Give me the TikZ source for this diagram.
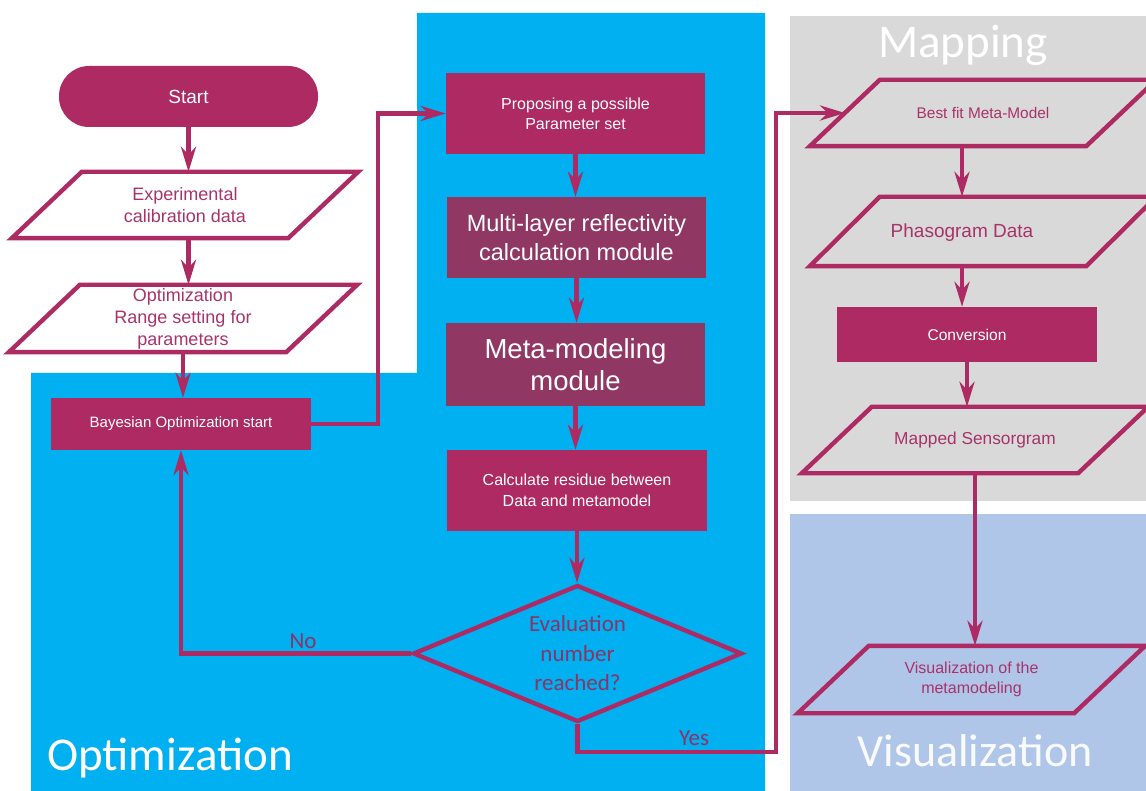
\documentclass[tikz,border=0pt]{standalone}
\usepackage{fontspec}
\setmainfont{Liberation Sans}
\newfontfamily\calfont{Carlito}
\usetikzlibrary{shapes.geometric,arrows.meta}
\definecolor{mag}{HTML}{AD2A62}
\definecolor{magdark}{HTML}{913764}
\definecolor{magtext}{HTML}{A8336A}
\definecolor{dectxt}{HTML}{8A3468}
\definecolor{optblue}{HTML}{00B0F0}
\definecolor{mapgray}{HTML}{D9D9D9}
\definecolor{visblue}{HTML}{AFC6E9}
\tikzset{
  fs/.style n args={2}{font=\fontsize{#1}{#2}\selectfont},
  procbox/.style={rectangle, fill=mag, text=white, align=center, inner sep=0pt},
  darkbox/.style={rectangle, fill=magdark, text=white, align=center, inner sep=0pt},
  paratext/.style={rectangle, draw=none, text=magtext, align=center, inner sep=0pt},
  parashape/.style={draw=mag, line width=4.4pt, line join=miter},
  decision/.style={diamond, draw=mag, line width=4.4pt, inner sep=0pt, minimum width=329pt, minimum height=137pt, aspect=2.4},
  flow/.style={draw=mag, line width=4.2pt, -{Stealth[length=25pt, width=15pt, inset=8pt]}},
  seclabel/.style={font=\calfont\fontsize{47}{50}\selectfont, text=white, inner sep=0pt, anchor=base},
  branchlabel/.style={font=\calfont\fontsize{23}{26}\selectfont, text=dectxt, inner sep=0pt, anchor=base}
}
\begin{document}
\begin{tikzpicture}[x=1pt, y=-1pt]
\useasboundingbox (0,0) rectangle (1146,791);
% section backgrounds
\fill[optblue] (31,373) -- (417,373) -- (417,13) -- (765,13) -- (765,791) -- (31,791) -- cycle;
\fill[mapgray] (790,16) rectangle (1146,501);
\fill[visblue] (790,514) rectangle (1146,791);
\node[seclabel] (lmap) at (963,58) {Mapping};
\node[seclabel] (lopt) at (170,770) {Optimization};
\node[seclabel, font=\calfont\fontsize{46}{50}\selectfont, text=white!92!visblue] (lvis) at (975,766) {Visualization};

% left column
\node[procbox, rounded corners=30pt, minimum width=259pt, minimum height=61pt, fs={19}{22}] (start) at (188.5,96.5) {Start};
\node[paratext, minimum width=206pt, minimum height=66pt, fs={18}{22}] (exp) at (185,205) {Experimental\\calibration data};
\draw[parashape] (exp.north west) -- ([xshift=70pt]exp.north east) -- (exp.south east) -- ([xshift=-70pt]exp.south west) -- cycle;
\node[paratext, minimum width=206pt, minimum height=67pt, fs={18}{22}] (opt) at (183,318.5) {Optimization\\Range setting for\\parameters};
\draw[parashape] (opt.north west) -- ([xshift=71pt]opt.north east) -- (opt.south east) -- ([xshift=-71pt]opt.south west) -- cycle;
\node[procbox, minimum width=260pt, minimum height=52pt, fs={15}{18}] (bayes) at (181,424) {Bayesian Optimization start};

% middle column
\node[procbox, minimum width=259pt, minimum height=81pt, fs={16}{20}] (prop) at (575.5,113.5) {Proposing a possible\\Parameter set};
\node[darkbox, minimum width=259pt, minimum height=81pt, fs={23.5}{29}] (multi) at (576.5,237.5) {Multi-layer reflectivity\\calculation module};
\node[darkbox, minimum width=259pt, minimum height=83pt, fs={27.5}{32}] (meta) at (575.5,364.5) {Meta-modeling\\module};
\node[procbox, minimum width=260pt, minimum height=81pt, fs={16}{21}] (calc) at (577,490.5) {Calculate residue between\\Data and metamodel};
\node[decision, label={[font=\calfont\fontsize{23}{29.5}\selectfont, text=dectxt, align=center]center:Evaluation\\number\\reached?}] (dec) at (577.5,653.5) {};

% right column
\node[paratext, minimum width=206pt, minimum height=66pt, fs={15.4}{18}] (best) at (983,113) {Best fit Meta-Model};
\draw[parashape] (best.north west) -- ([xshift=70pt]best.north east) -- (best.south east) -- ([xshift=-70pt]best.south west) -- cycle;
\node[paratext, minimum width=206pt, minimum height=69pt] (phas) at (983,231.5) {};
\node[paratext, fs={19}{22}, anchor=center] (phast) at (962,232.5) {Phasogram Data};
\draw[parashape] (phas.north west) -- ([xshift=70pt]phas.north east) -- (phas.south east) -- ([xshift=-70pt]phas.south west) -- cycle;
\node[procbox, minimum width=260pt, minimum height=55pt, fs={15.6}{18}] (conv) at (967,334.5) {Conversion};
\node[paratext, minimum width=206pt, minimum height=66pt, fs={17.3}{20}] (mapped) at (975,440) {Mapped Sensorgram};
\draw[parashape] (mapped.north west) -- ([xshift=70pt]mapped.north east) -- (mapped.south east) -- ([xshift=-70pt]mapped.south west) -- cycle;
\node[paratext, minimum width=205pt, minimum height=67pt, fs={16}{20}] (vis) at (971.5,679.5) {Visualization of the\\metamodeling};
\draw[parashape] (vis.north west) -- ([xshift=71pt]vis.north east) -- (vis.south east) -- ([xshift=-71pt]vis.south west) -- cycle;

% connectors
\coordinate (j1) at (378,113.5);
\coordinate (j2) at (776,752);
\coordinate (j3) at (776,113);
\coordinate (bestin) at (845,113);
\draw[flow] (start.south) -- (start.south |- exp.north);
\draw[flow] (exp.south -| start.south) -- (opt.north -| start.south);
\draw[flow] (opt.south) -- (opt.south |- bayes.north);
\draw[flow] (bayes.east) -| (j1) -- (prop.west);
\draw[flow] (prop.south) -- (prop.south |- multi.north);
\draw[flow] (multi.south) -- (multi.south |- meta.north);
\draw[flow] (meta.south) -- (meta.south |- calc.north);
\draw[flow] (calc.south) -- (calc.south |- dec.north);
\draw[flow] (dec.west) -| (bayes.south);
\draw[flow] (dec.south) |- (j2) -- (j3) -- (bestin);
\draw[flow] (best.south -| phast) -- (phas.north -| phast);
\draw[flow] (phas.south -| phast) -- (phast |- conv.north);
\draw[flow] (conv.south) -- (conv.south |- mapped.north);
\draw[flow] (mapped.south) -- (mapped.south |- vis.north);
\node[branchlabel] (no) at (303,648) {No};
\node[branchlabel] (yes) at (694,745) {Yes};
\end{tikzpicture}
\end{document}
